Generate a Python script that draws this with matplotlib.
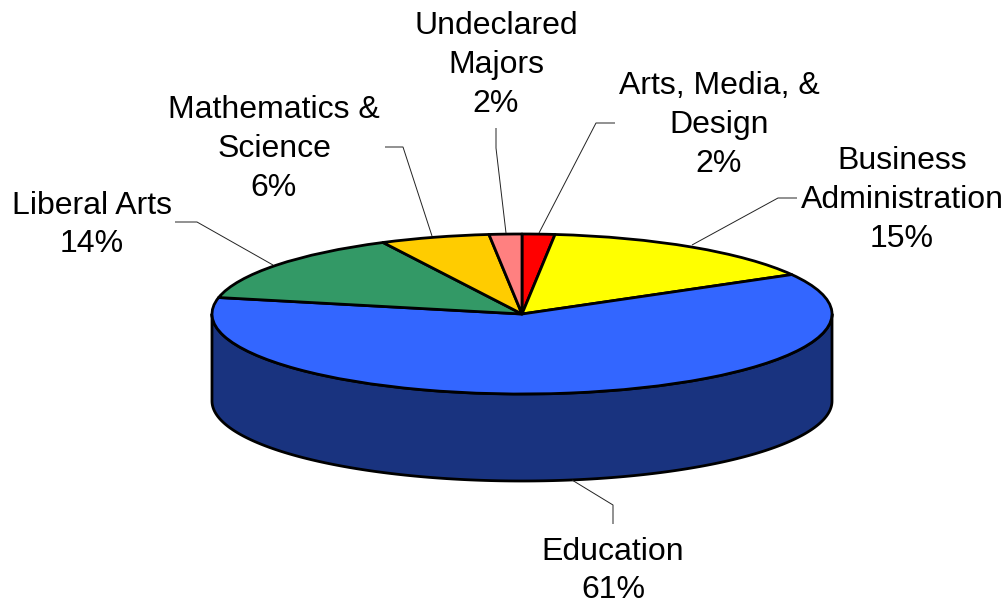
import matplotlib
matplotlib.use('Agg')
import matplotlib.pyplot as plt
import numpy as np

plt.rcParams['font.family'] = ['Liberation Sans', 'DejaVu Sans']

# clockwise from 12 o'clock
categories = ['Arts, Media, &\nDesign', 'Business\nAdministration', 'Education',
              'Liberal Arts', 'Mathematics &\nScience', 'Undeclared\nMajors']
shares = [1.7, 15.1, 61.5, 14.3, 5.7, 1.7]
shown_pct = [2, 15, 61, 14, 6, 2]
colors = ['#FF0000', '#FFFF00', '#3366FF', '#339966', '#FFCC00', '#FF8080']
side_color = '#19337F'

W, H = 1006, 602
cx, cy = 522, 314
rx, ry = 310, 80
depth = 87


def px(x, y):
    # picture pixels -> pie units
    return (x - cx) / rx, (cy - y) / ry


label_pos = [(719, 125), (902, 200), (613, 571), (92, 225), (274, 149), (496, 65)]
leaders = [
    [(539, 233), (596, 123), (615, 123)],
    [(692, 245), (778, 198), (797, 198)],
    [(572, 480), (613, 505), (613, 524)],
    [(273, 265), (197, 222), (175, 222)],
    [(432, 236), (403, 147), (385, 147)],
    [(506, 233), (496, 148), (496, 128)],
]

fig = plt.figure(figsize=(W / 100, H / 100), dpi=100)
ax = fig.add_axes([0, 0, 1, 1])

t = np.linspace(np.pi, 2 * np.pi, 200)
side_x = np.concatenate([np.cos(t), np.cos(t[::-1])])
side_y = np.concatenate([np.sin(t), np.sin(t[::-1]) - depth / ry])
ax.fill(side_x, side_y, facecolor=side_color, edgecolor='black', linewidth=2.0,
        joinstyle='round', zorder=1)

wedges, _ = ax.pie(shares, colors=colors, startangle=90, counterclock=False, radius=1,
                   wedgeprops={'edgecolor': 'black', 'linewidth': 2.0, 'joinstyle': 'round'})
for w in wedges:
    w.set_zorder(2)

# the pie squashes because the axes are not equal
ax.set_aspect('auto')
ax.set_xlim(px(0, 0)[0], px(W, 0)[0])
ax.set_ylim(px(0, H)[1], px(0, 0)[1])
ax.axis('off')

for name, pct, pos, leader in zip(categories, shown_pct, label_pos, leaders):
    x, y = px(*pos)
    ax.text(x, y, f'{name}\n{pct}%', ha='center', va='center', fontsize=23,
            linespacing=1.38, color='black', zorder=4)
    pts = np.array([px(*p) for p in leader])
    ax.plot(pts[:, 0], pts[:, 1], color='#222222', linewidth=0.7, zorder=3, solid_capstyle='butt')

fig.savefig('out.png', dpi=100)
